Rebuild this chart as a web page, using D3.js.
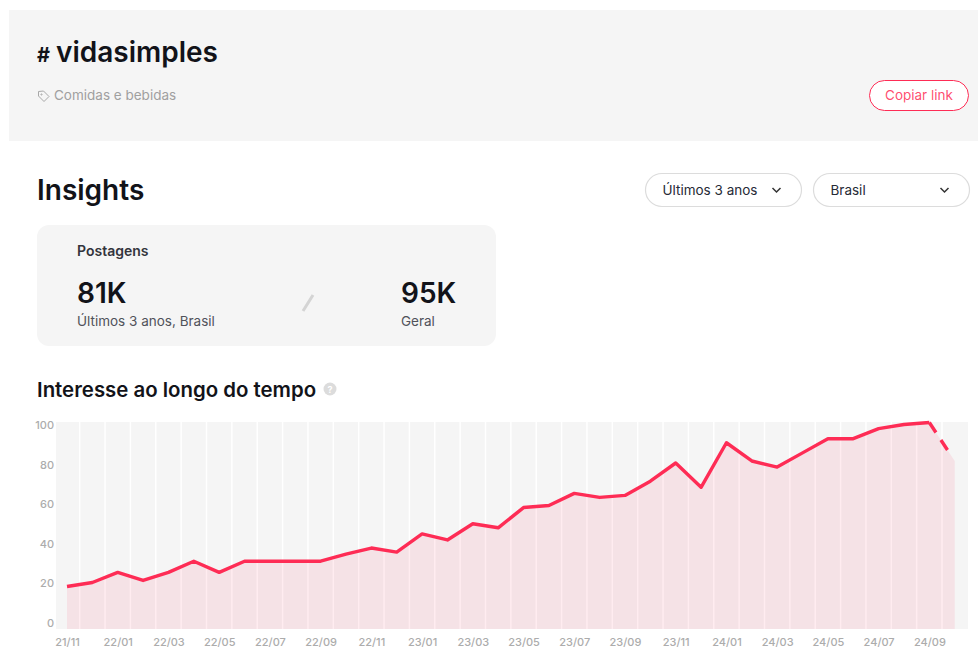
<!DOCTYPE html>
<html>
<head>
<meta charset="utf-8">
<script src="https://cdn.jsdelivr.net/npm/d3@7"></script>
<style>
  html, body { margin: 0; background: #fff; }
  svg { display: block; }
  text { font-family: Inter, "Noto Sans", sans-serif; }
  .tick-label { font-size: 11px; font-weight: 500; fill: #acacac; }
</style>
</head>
<body>
<svg id="page" width="978" height="648"></svg>
<script>
const months = ["21/11","21/12","22/01","22/02","22/03","22/04","22/05","22/06","22/07","22/08","22/09","22/10",
  "22/11","22/12","23/01","23/02","23/03","23/04","23/05","23/06","23/07","23/08","23/09","23/10",
  "23/11","23/12","24/01","24/02","24/03","24/04","24/05","24/06","24/07","24/08","24/09","24/10"];
const interest = [19,21,26,22,26,31.5,26,31.5,31.5,31.5,31.5,35,38,36,45,42,50,48,58,59,65,63,64,71,
  80,68,90,81,78,85,92,92,97,99,100,81];
const yTicks = [0,20,40,60,80,100];
const xTicks = months.filter((d, i) => i % 2 == 0);

const pink = "#fe2c55";
const dark = "#121319";
const svg = d3.select("#page");

// header band
svg.append("rect").attr("x", 9).attr("y", 10).attr("width", 969).attr("height", 131).attr("fill", "#f5f5f5");

svg.append("text").attr("x", 37).attr("y", 62).attr("font-size", 20).attr("font-weight", 700).attr("fill", dark).text("#");
svg.append("text").attr("x", 56).attr("y", 62).attr("font-size", 28).attr("font-weight", 600).attr("fill", dark).text("vidasimples");

// tag icon
let tag = svg.append("g").attr("fill", "none").attr("stroke", "#a8a8a8").attr("stroke-width", 1);
tag.append("path").attr("d", "M38.5 91.5 L38.5 96 L44 101.5 L49 96.5 L43.5 91 Z");
tag.append("circle").attr("cx", 41.5).attr("cy", 94.5).attr("r", 0.6);
svg.append("text").attr("x", 54).attr("y", 100).attr("font-size", 13.5).attr("fill", "#a0a0a0").text("Comidas e bebidas");

// copy button
svg.append("rect").attr("x", 869.5).attr("y", 80.5).attr("width", 99).attr("height", 30).attr("rx", 15)
  .attr("fill", "#fff").attr("stroke", pink);
svg.append("text").attr("x", 919).attr("y", 100).attr("text-anchor", "middle").attr("font-size", 13.5).attr("fill", pink).attr("fill-opacity", 0.85).text("Copiar link");

svg.append("text").attr("x", 37).attr("y", 200).attr("font-size", 28).attr("font-weight", 600).attr("fill", dark).text("Insights");

// dropdowns
const drops = [["Últimos 3 anos", 645.5, 156], ["Brasil", 813.5, 156]];
drops.forEach(d => {
  svg.append("rect").attr("x", d[1]).attr("y", 173.5).attr("width", d[2]).attr("height", 33).attr("rx", 16.5)
    .attr("fill", "#fff").attr("stroke", "#dcdcdc").attr("stroke-width", 1.2);
  svg.append("text").attr("x", d[1] + 17).attr("y", 195).attr("font-size", 13.5).attr("fill", "#262a36").text(d[0]);
  let cx = d[1] + 131;
  svg.append("path").attr("d", `M${cx-4} 188 L${cx} 192 L${cx+4} 188`).attr("fill", "none").attr("stroke", "#333").attr("stroke-width", 1.5);
});

// stats card
svg.append("rect").attr("x", 37).attr("y", 225).attr("width", 459).attr("height", 121).attr("rx", 12).attr("fill", "#f5f5f5");
svg.append("text").attr("x", 77).attr("y", 256).attr("font-size", 14).attr("font-weight", 600).attr("fill", "#33343c").text("Postagens");
svg.append("text").attr("x", 77).attr("y", 303).attr("font-size", 28).attr("font-weight", 600).attr("fill", dark).text("81K");
svg.append("text").attr("x", 77).attr("y", 326).attr("font-size", 13.5).attr("fill", "#50525a").text("Últimos 3 anos, Brasil");
svg.append("text").attr("x", 401).attr("y", 303).attr("font-size", 28).attr("font-weight", 600).attr("fill", dark).text("95K");
svg.append("text").attr("x", 401).attr("y", 326).attr("font-size", 13.5).attr("fill", "#50525a").text("Geral");
svg.append("line").attr("x1", 303).attr("y1", 311).attr("x2", 313).attr("y2", 295).attr("stroke", "#d4d4d4").attr("stroke-width", 3);

// chart title
svg.append("text").attr("x", 37).attr("y", 397).attr("font-size", 20.4).attr("font-weight", 600).attr("fill", dark).text("Interesse ao longo do tempo");
svg.append("circle").attr("cx", 330).attr("cy", 389).attr("r", 6.5).attr("fill", "#dcdcdc");
svg.append("text").attr("x", 330).attr("y", 392.5).attr("text-anchor", "middle").attr("font-size", 9).attr("font-weight", 700).attr("fill", "#fff").text("?");

// chart
let x = d3.scalePoint().domain(months).range([67, 954.7]);
let y = d3.scaleLinear().domain([0, 100]).range([625, 422.5]);
let yLabel = d3.scaleLinear().domain([0, 100]).range([623, 425]);
let plotLeft = 56, plotRight = 968, plotTop = 422, plotBottom = 629;

svg.append("rect").attr("x", plotLeft).attr("y", plotTop).attr("width", plotRight - plotLeft).attr("height", plotBottom - plotTop).attr("fill", "#f5f5f5");

svg.append("g").selectAll("line")
  .data(months.slice(0, -1))
  .enter()
  .append("line")
  .attr("x1", d => x(d) + x.step() / 2)
  .attr("x2", d => x(d) + x.step() / 2)
  .attr("y1", plotTop)
  .attr("y2", plotBottom)
  .attr("stroke", "#fff")
  .attr("stroke-width", 1.5);

let area = d3.area().x((d, i) => x(months[i])).y0(plotBottom).y1(d => y(d));
let line = d3.line().x((d, i) => x(months[i])).y(d => y(d));

svg.append("path").datum(interest).attr("d", area).attr("fill", pink).attr("fill-opacity", 0.09);

// last month is still incomplete, dashed
svg.append("path").datum(interest.slice(0, -1)).attr("d", line)
  .attr("fill", "none").attr("stroke", pink).attr("stroke-width", 3.4).attr("stroke-linejoin", "round");
svg.append("path").attr("d", d3.line()([[x(months[34]), y(interest[34])], [x(months[35]), y(interest[35])]]))
  .attr("fill", "none").attr("stroke", pink).attr("stroke-width", 3.4).attr("stroke-dasharray", "12 9 12 30");

let yAxis = d3.axisLeft(yLabel).tickValues(yTicks).tickSize(0).tickPadding(0);
svg.append("g").attr("transform", "translate(54,0)").call(yAxis)
  .call(g => g.select(".domain").remove())
  .call(g => g.selectAll("text").attr("class", "tick-label").attr("x", 0).style("font-family", null).style("text-anchor", "end"));

let xAxis = d3.axisBottom(x).tickValues(xTicks).tickSize(0).tickPadding(0);
svg.append("g").attr("transform", "translate(0,638)").call(xAxis)
  .call(g => g.select(".domain").remove())
  .call(g => g.selectAll("text").attr("class", "tick-label").attr("y", 0));
</script>
</body>
</html>
